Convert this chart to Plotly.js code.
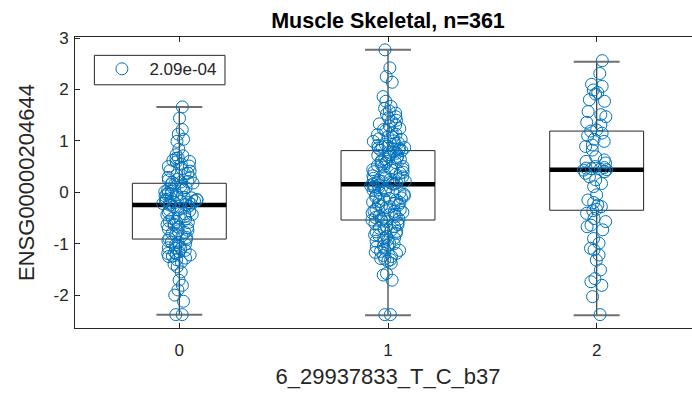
<!DOCTYPE html>
<html>
<head>
<meta charset="utf-8">
<script src="https://cdn.plot.ly/plotly-3.0.1.min.js"></script>
<style>
html, body { margin: 0; padding: 0; overflow: hidden; background: #fff; }
#chart { width: 701px; height: 397px; }
</style>
</head>
<body>
<div id="chart"></div>
<script>
// ---- data ----
const categories = [0, 1, 2];
const tickLabels = ['0', '1', '2'];
const legendLabel = '2.09e-04';
const titleText = 'Muscle Skeletal, n=361';
const xLabel = '6_29937833_T_C_b37';
const yLabel = 'ENSG00000204644';

// box statistics (as drawn in the reference)
const q1 = [-0.91, -0.54, -0.35];
const medians = [-0.25, 0.155, 0.44];
const q3 = [0.175, 0.81, 1.19];
const whiskerLow = [-2.38, -2.39, -2.39];
const whiskerHigh = [1.66, 2.77, 2.54];

// individual samples per genotype group
const group0 = [
  1.66, 1.44, 1.22, 1.13, 1.03, 0.99, 0.84, 0.73, 0.71, 0.67, 0.66, 0.62, 0.60, 0.59, 0.55, 0.51,
  0.50, 0.46, 0.42, 0.41, 0.37, 0.36, 0.33, 0.29, 0.28, 0.25, 0.24, 0.21, 0.20, 0.19, 0.18,
  0.16, 0.15, 0.12, 0.09, 0.08, 0.05, 0.04, 0.02, 0.01, -0.01, -0.03, -0.04, -0.05, -0.07, -0.09,
  -0.10, -0.11, -0.12, -0.14, -0.14, -0.15, -0.17, -0.17, -0.18, -0.20, -0.20, -0.21, -0.22, -0.23, -0.24, -0.25,
  -0.27, -0.28, -0.31, -0.34, -0.35, -0.36, -0.39, -0.42, -0.43, -0.44, -0.47, -0.50, -0.51, -0.52, -0.56,
  -0.57, -0.59, -0.62, -0.63, -0.64, -0.68, -0.69, -0.71, -0.74, -0.75, -0.78, -0.80, -0.82, -0.85, -0.88, -0.90,
  -0.92, -0.94, -0.97, -0.98, -1.01, -1.02, -1.05, -1.08, -1.09, -1.10, -1.13, -1.16, -1.17, -1.19, -1.20,
  -1.22, -1.25, -1.28, -1.31, -1.36, -1.40, -1.45, -1.55, -1.71, -1.81, -1.90, -2.00, -2.12, -2.38, -2.38, -1.24
];
const group1 = [
  2.77, 2.42, 2.25, 2.14, 1.86, 1.77, 1.67, 1.63, 1.58, 1.54, 1.52, 1.47, 1.45, 1.40, 1.38, 1.33,
  1.31, 1.29, 1.24, 1.22, 1.20, 1.16, 1.13, 1.12, 1.08, 1.07, 1.04, 1.03, 1.00, 0.99, 0.96, 0.95,
  0.93, 0.91, 0.90, 0.88, 0.87, 0.86, 0.85, 0.84, 0.83, 0.82, 0.81,
  0.79, 0.78, 0.76, 0.73, 0.72, 0.70, 0.69, 0.67, 0.65, 0.64, 0.62, 0.60, 0.59, 0.58, 0.56, 0.53,
  0.52, 0.50, 0.49, 0.47, 0.45, 0.44, 0.43, 0.40, 0.39, 0.37, 0.35, 0.34, 0.32, 0.30, 0.29, 0.27,
  0.26, 0.25, 0.23, 0.22, 0.21, 0.20, 0.19, 0.18, 0.17, 0.16, 0.155,
  0.14, 0.13, 0.11, 0.09, 0.08, 0.06, 0.04, 0.03, 0.01, -0.01, -0.02, -0.04, -0.06, -0.07, -0.09,
  -0.11, -0.12, -0.14, -0.15, -0.18, -0.19, -0.20, -0.22, -0.24, -0.25, -0.27, -0.28, -0.30, -0.33,
  -0.34, -0.36, -0.37, -0.39, -0.40, -0.43, -0.44, -0.46, -0.47, -0.49, -0.51, -0.52, -0.53, -0.54,
  -0.56, -0.57, -0.60, -0.61, -0.63, -0.66, -0.67, -0.70, -0.71, -0.74, -0.76, -0.77, -0.80, -0.83,
  -0.84, -0.86, -0.89, -0.90, -0.92, -0.95, -0.96, -0.99, -1.00, -1.03, -1.05, -1.07, -1.11, -1.13,
  -1.17, -1.19, -1.23, -1.25, -1.30, -1.31, -1.34, -1.38, -1.58, -1.61, -1.71, -2.38, -2.38, -1.29, -1.15
];
const group2 = [
  2.56, 2.31, 2.10, 2.06, 1.99, 1.94, 1.91, 1.80, 1.77, 1.57, 1.51, 1.47, 1.36, 1.31, 1.21, 1.19,
  1.15, 1.10, 1.03, 0.99, 0.92, 0.89, 0.82, 0.69, 0.63, 0.60, 0.57, 0.50, 0.48, 0.47, 0.46, 0.45,
  0.44, 0.43, 0.40, 0.37, 0.30, 0.24, 0.17, 0.11, -0.05, -0.15, -0.20, -0.25, -0.28, -0.33, -0.36,
  -0.41, -0.51, -0.57, -0.64, -0.67, -0.73, -0.90, -0.99, -1.09, -1.12, -1.22, -1.32, -1.51, -1.68,
  -1.74, -1.81, -2.03, -2.38
];
const groups = [group0, group1, group2];

// ---- styling constants ----
const BLUE = '#0072BD';
const AXIS = '#262626';
const FONT = 'Liberation Sans, Arial, Helvetica, sans-serif';
const BOX_HALF = 0.225;
const CAP_HALF = 0.11;

const traces = groups.map((vals, i) => ({
  type: 'box',
  x: vals.map(() => categories[i]),
  y: vals,
  width: 2 * BOX_HALF,
  boxpoints: 'all',
  jitter: 0.38,
  pointpos: 0,
  fillcolor: 'rgba(0,0,0,0)',
  line: { width: 0, color: 'rgba(0,0,0,0)' },
  marker: { symbol: 'circle-open', size: 12, color: BLUE, line: { width: 1 } },
  hoveron: 'points',
  showlegend: false
}));

traces.push({
  type: 'scatter',
  mode: 'markers',
  x: [null],
  y: [null],
  name: legendLabel,
  marker: { symbol: 'circle-open', size: 12, color: BLUE, line: { width: 1 } },
  showlegend: true
});

const shapes = [];
categories.forEach((c, i) => {
  // whiskers
  shapes.push({ type: 'line', xref: 'x', yref: 'y', layer: 'below',
    x0: c, x1: c, y0: q3[i], y1: whiskerHigh[i], line: { color: '#454545', width: 1.3 } });
  shapes.push({ type: 'line', xref: 'x', yref: 'y', layer: 'below',
    x0: c, x1: c, y0: q1[i], y1: whiskerLow[i], line: { color: '#454545', width: 1.3 } });
  // caps
  shapes.push({ type: 'line', xref: 'x', yref: 'y', layer: 'below',
    x0: c - CAP_HALF, x1: c + CAP_HALF, y0: whiskerHigh[i], y1: whiskerHigh[i], line: { color: '#707070', width: 2 } });
  shapes.push({ type: 'line', xref: 'x', yref: 'y', layer: 'below',
    x0: c - CAP_HALF, x1: c + CAP_HALF, y0: whiskerLow[i], y1: whiskerLow[i], line: { color: '#707070', width: 2 } });
  // box
  shapes.push({ type: 'rect', xref: 'x', yref: 'y', layer: 'below',
    x0: c - BOX_HALF, x1: c + BOX_HALF, y0: q1[i], y1: q3[i],
    fillcolor: 'rgba(0,0,0,0)', line: { color: '#262626', width: 1 } });
  // median
  shapes.push({ type: 'line', xref: 'x', yref: 'y', layer: 'below',
    x0: c - BOX_HALF, x1: c + BOX_HALF, y0: medians[i], y1: medians[i], line: { color: '#000000', width: 4.5 } });
});

// legend frame (MATLAB-style, tighter than Plotly's own border)
shapes.push({ type: 'rect', xref: 'paper', yref: 'paper', layer: 'above',
  x0: 0.031, x1: 0.2396, y0: 0.8357, y1: 0.937,
  fillcolor: 'rgba(0,0,0,0)', line: { color: AXIS, width: 1 } });

const layout = {
  width: 701,
  height: 397,
  autosize: false,
  margin: { l: 75, r: 0, t: 37, b: 69, pad: 0 },
  paper_bgcolor: '#ffffff',
  plot_bgcolor: '#ffffff',
  font: { family: FONT, color: AXIS, size: 17 },
  title: {
    text: '<b>' + titleText + '</b>',
    font: { family: FONT, size: 21.5, color: '#000000' },
    x: 0.5, xref: 'paper', xanchor: 'center',
    y: 1 - 20 / 397, yref: 'container', yanchor: 'middle'
  },
  showlegend: true,
  legend: {
    x: 0.031, y: 0.951, xanchor: 'left', yanchor: 'top',
    bgcolor: 'rgba(0,0,0,0)', borderwidth: 0,
    font: { family: FONT, size: 17, color: AXIS },
    itemwidth: 45
  },
  xaxis: {
    range: [-0.5, 2.5],
    tickmode: 'array',
    tickvals: categories,
    ticktext: tickLabels,
    ticks: 'inside', ticklen: 5, tickwidth: 1, tickcolor: AXIS,
    ticklabelstandoff: 7,
    showline: true, linecolor: AXIS, linewidth: 1, mirror: 'ticks',
    showgrid: false, zeroline: false,
    tickfont: { family: FONT, size: 17, color: AXIS },
    title: { text: xLabel, font: { family: FONT, size: 22, color: AXIS }, standoff: 9 }
  },
  yaxis: {
    range: [-2.64, 3.02],
    tickmode: 'array',
    tickvals: [-2, -1, 0, 1, 2, 3],
    ticktext: ['-2', '-1', '0', '1', '2', '3'],
    ticks: 'inside', ticklen: 5, tickwidth: 1, tickcolor: AXIS,
    ticklabelstandoff: 2,
    showline: true, linecolor: AXIS, linewidth: 1, mirror: 'ticks',
    showgrid: false, zeroline: false,
    tickfont: { family: FONT, size: 17, color: AXIS },
    title: { text: yLabel, font: { family: FONT, size: 22, color: AXIS }, standoff: 12 }
  },
  shapes: shapes,
  boxmode: 'overlay',
  hovermode: 'closest'
};

Plotly.newPlot('chart', traces, layout, { displayModeBar: false, staticPlot: true });
</script>
</body>
</html>
